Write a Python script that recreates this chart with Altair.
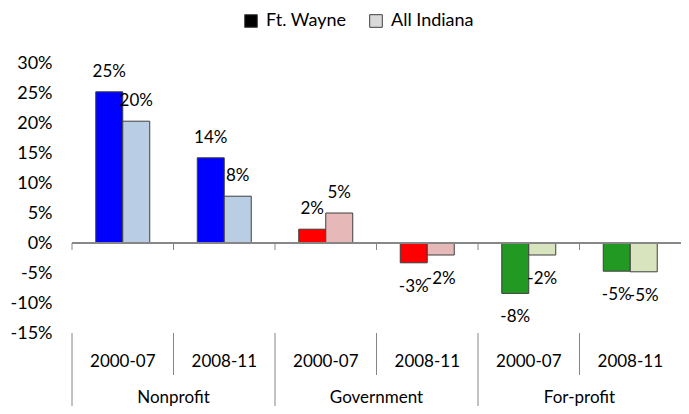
import altair as alt
import pandas as pd

sectors = ["Nonprofit", "Government", "For-profit"]
periods = ["2000-07", "2008-11"]
series = ["Ft. Wayne", "All Indiana"]
ft_wayne = [25.2, 14.2, 2.3, -3.3, -8.4, -4.7]
all_indiana = [20.3, 7.8, 5.0, -2.0, -2.0, -4.8]
dark_colors = ["#0000FF", "#FF0000", "#229922"]
light_colors = ["#B9CDE5", "#E6B9B8", "#D7E4BD"]
legend_colors = ["#000000", "#D9D9D9"]
y_ticks = [-15, -10, -5, 0, 5, 10, 15, 20, 25, 30]

FONT = "Lato"
AXIS_GRAY = "#868686"
FS = 17

keys, cat_rows, rows = [], [], []
ckeys, crange = [], []
i = 0
for si, s in enumerate(sectors):
    ckeys += [s + "|" + series[0], s + "|" + series[1]]
    crange += [dark_colors[si], light_colors[si]]
    for pi, p in enumerate(periods):
        k = s + " " + p
        keys.append(k)
        cat_rows.append({"key": k, "sector": s, "period": p, "first": pi == 0})
        for ser, vals in zip(series, [ft_wayne, all_indiana]):
            rows.append({"key": k, "sector": s, "period": p, "series": ser,
                         "value": vals[i], "ckey": s + "|" + ser})
        i += 1

df = pd.DataFrame(rows)
cats = pd.DataFrame(cat_rows)

xscale = alt.Scale(domain=keys, paddingInner=0, paddingOuter=0)
xoff = alt.XOffset("series:N", scale=alt.Scale(domain=series, paddingInner=0, paddingOuter=0.88))
yscale = alt.Scale(domain=[-15, 30], nice=False, zero=False)
yaxis = alt.Axis(values=y_ticks, labelExpr="datum.value + '%'", domain=False,
                 ticks=False, grid=False, labelPadding=20, title=None,
                 labelOverlap=False, tickCount=10, labelFont=FONT, labelFontSize=18,
                 labelColor="#000000")

bars = alt.Chart(df).mark_bar(stroke="#3f3f3f", strokeWidth=1).encode(
    x=alt.X("key:N", scale=xscale, axis=None),
    xOffset=xoff,
    y=alt.Y("value:Q", scale=yscale, axis=yaxis),
    color=alt.Color("ckey:N", scale=alt.Scale(domain=ckeys, range=crange), legend=None),
)

zero_line = alt.Chart(cats).mark_rule(color=AXIS_GRAY, strokeWidth=1).encode(
    y=alt.datum(0)
)

zero_ticks = alt.Chart(cats).mark_rule(color=AXIS_GRAY, strokeWidth=1).encode(
    x=alt.X("key:N", scale=xscale, bandPosition=0),
    y=alt.datum(0),
    y2=alt.value(187),
)

long_sep = alt.Chart(cats).transform_filter("datum.first").mark_rule(color=AXIS_GRAY, strokeWidth=1).encode(
    x=alt.X("key:N", scale=xscale, bandPosition=0),
    y=alt.value(270),
    y2=alt.value(343),
)
short_sep = alt.Chart(cats).transform_filter("!datum.first").mark_rule(color=AXIS_GRAY, strokeWidth=1).encode(
    x=alt.X("key:N", scale=xscale, bandPosition=0),
    y=alt.value(270),
    y2=alt.value(312),
)

period_labels = alt.Chart(cats).mark_text(font=FONT, fontSize=FS, color="#000000", baseline="middle").encode(
    x=alt.X("key:N", scale=xscale),
    y=alt.value(299),
    text="period:N",
)
sector_labels = alt.Chart(cats).transform_filter("datum.first").mark_text(
    font=FONT, fontSize=FS, color="#000000", baseline="middle").encode(
    x=alt.X("key:N", scale=xscale, bandPosition=1),
    y=alt.value(335),
    text="sector:N",
)

lab_base = alt.Chart(df).transform_calculate(label="round(datum.value) + '%'")
pos_labels = lab_base.transform_filter("datum.value >= 0").mark_text(
    font=FONT, fontSize=FS, color="#000000", baseline="middle", dy=-20).encode(
    x=alt.X("key:N", scale=xscale), xOffset=xoff,
    y=alt.Y("value:Q", scale=yscale, axis=yaxis), text="label:N")
neg_labels = lab_base.transform_filter("datum.value < 0").mark_text(
    font=FONT, fontSize=FS, color="#000000", baseline="middle", dy=24).encode(
    x=alt.X("key:N", scale=xscale), xOffset=xoff,
    y=alt.Y("value:Q", scale=yscale, axis=yaxis), text="label:N")

legend_layer = alt.Chart(df).transform_filter("false").mark_square(
    stroke="#404040", strokeWidth=1, opacity=1).encode(
    fill=alt.Fill("series:N", scale=alt.Scale(domain=series, range=legend_colors),
                  legend=alt.Legend(orient="none", legendX=170, legendY=-51, direction="horizontal",
                                    title=None, symbolType="square", symbolSize=160,
                                    symbolStrokeColor="#404040", symbolStrokeWidth=1,
                                    symbolOpacity=1, labelFont=FONT, labelFontSize=18,
                                    labelColor="#000000", columnPadding=20, labelOffset=6))
)

chart = alt.layer(
    bars, zero_line, zero_ticks, long_sep, short_sep, period_labels, sector_labels,
    pos_labels, neg_labels, legend_layer
).properties(
    width=609, height=270,
    autosize=alt.AutoSizeParams(type="none"),
    padding={"left": 64, "top": 55, "right": 0, "bottom": 73},
    background="white",
).configure_view(stroke=None).configure_axis(labelOverlap=False)

chart.save("out.html", embed_options={"renderer": "svg", "actions": False})
